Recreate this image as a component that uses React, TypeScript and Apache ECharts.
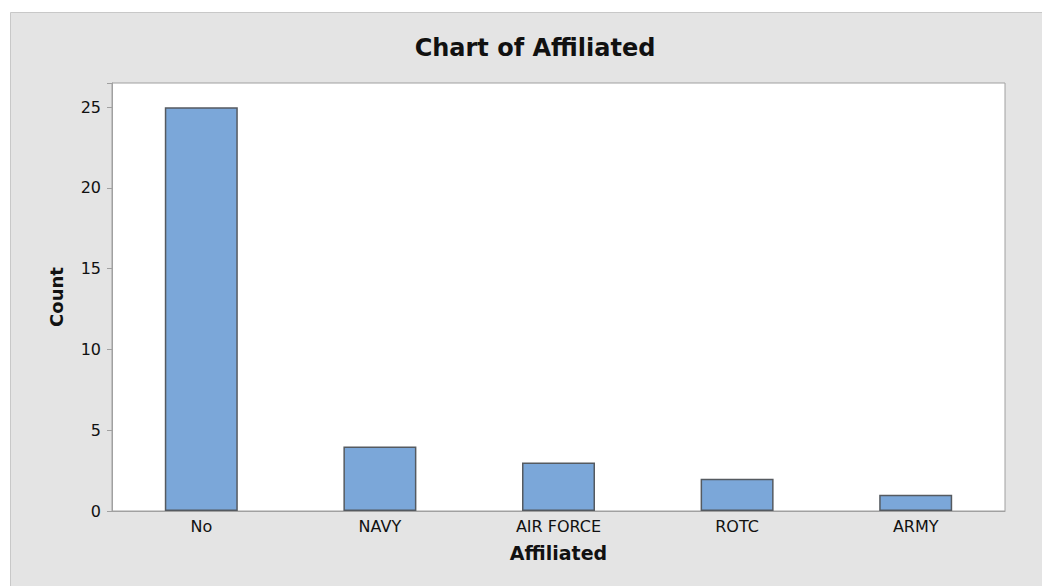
import React, { useEffect, useRef } from "react";
import * as echarts from "echarts";

const categories = ["No", "NAVY", "AIR FORCE", "ROTC", "ARMY"];
const counts = [25, 4, 3, 2, 1];
const yTicks = [0, 5, 10, 15, 20, 25];

const FONT = "'DejaVu Sans', 'Noto Sans', sans-serif";

export default function App() {
  const ref = useRef<HTMLDivElement>(null);
  useEffect(() => {
    if (!ref.current) return;
    const chart = echarts.init(ref.current, null, { renderer: "svg" });
    chart.setOption({
      animation: false,
      backgroundColor: "#ffffff",
      title: {
        text: "Chart of Affiliated",
        left: 530,
        textAlign: "center",
        top: 31,
        textStyle: { fontFamily: FONT, fontSize: 24, fontWeight: "bold", color: "#111" },
      },
      graphic: [
        {
          type: "rect",
          z: -10,
          silent: true,
          shape: { x: 10.5, y: 12.5, width: 1040, height: 580 },
          style: { fill: "#e4e4e4", stroke: "#c8c8c8", lineWidth: 1 },
        },
      ],
      grid: {
        left: 112,
        top: 83,
        right: 37,
        bottom: 75,
        show: true,
        backgroundColor: "#ffffff",
        borderColor: "#a0a0a0",
        borderWidth: 1,
      },
      xAxis: {
        type: "category",
        data: categories,
        name: "Affiliated",
        nameLocation: "middle",
        nameGap: 32,
        nameTextStyle: { fontFamily: FONT, fontSize: 19, fontWeight: "bold", color: "#111" },
        axisLine: { lineStyle: { color: "#a0a0a0", width: 1 } },
        axisTick: { alignWithLabel: true, length: 5, lineStyle: { color: "#a0a0a0" } },
        axisLabel: { fontFamily: FONT, fontSize: 16, color: "#111", margin: 7 },
        splitLine: { show: false },
      },
      yAxis: {
        type: "value",
        min: 0,
        max: 26.5,
        interval: 5,
        name: "Count",
        nameLocation: "middle",
        nameGap: 47,
        nameRotate: 90,
        nameTextStyle: { fontFamily: FONT, fontSize: 18, fontWeight: "bold", color: "#111" },
        axisLine: { show: true, lineStyle: { color: "#a0a0a0", width: 1 } },
        axisTick: { show: true, length: 5, lineStyle: { color: "#a0a0a0" } },
        axisLabel: {
          fontFamily: FONT,
          fontSize: 16,
          color: "#111",
          margin: 11,
          formatter: (v: number) => (yTicks.includes(v) ? String(v) : ""),
        },
        splitLine: { show: false },
      },
      series: [
        {
          type: "bar",
          data: counts,
          barWidth: 73,
          itemStyle: { color: "#7ba7d9", borderColor: "#555a60", borderWidth: 1.5 },
        },
      ],
    });
    return () => chart.dispose();
  }, []);
  return (
    <div
      ref={ref}
      style={{ position: "fixed", left: 0, top: 0, width: 1042, height: 586 }}
    />
  );
}
